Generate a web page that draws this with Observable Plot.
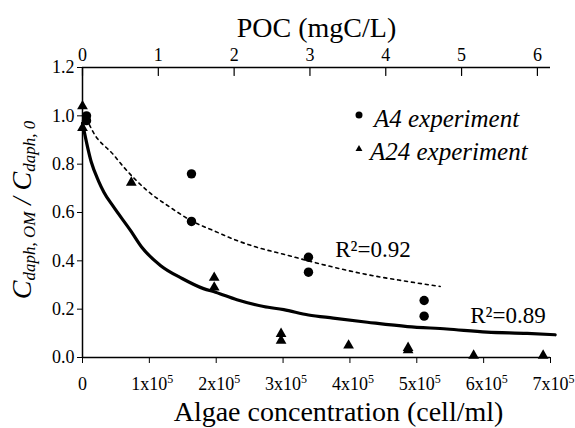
<!DOCTYPE html>
<html><head><meta charset="utf-8">
<script src="https://cdn.jsdelivr.net/npm/d3@7"></script>
<script src="https://cdn.jsdelivr.net/npm/@observablehq/plot@0.6"></script>
<style>body{margin:0;background:#fff} svg text{font-family:"Liberation Serif", serif;}</style>
</head><body><div id="chart"></div>
<script>
// A4 experiment (circles)
const a4X = [6000, 6000, 163000, 163000, 338000, 338000, 511000, 511000];
const a4Y = [1.00, 0.98, 0.76, 0.563, 0.415, 0.353, 0.236, 0.171];
// A24 experiment (triangles)
const a24X = [0, 0, 73000, 197000, 197000, 297000, 297000, 398000, 487000, 487000, 585000, 689000];
const a24Y = [1.04, 0.95, 0.724, 0.33, 0.29, 0.098, 0.07, 0.05, 0.04, 0.03, 0.008, 0.008];
// fitted curve A4 (dashed)
const fit4X = [6000, 14500, 46000, 61000, 97000, 132000, 162000, 196000, 231000, 261000, 301000, 331000, 375000, 426000, 476000, 535000];
const fit4Y = [0.99, 0.94, 0.84, 0.79, 0.69, 0.62, 0.567, 0.525, 0.484, 0.456, 0.427, 0.405, 0.374, 0.343, 0.319, 0.294];
// fitted curve A24 (solid)
const fit24X = [0, 13000, 24000, 32000, 46000, 72000, 89000, 117000, 149000, 181000, 199000, 231000, 271000, 301000, 338000, 375000, 426000, 486000, 545000, 605000, 665000, 707000];
const fit24Y = [0.97, 0.81, 0.73, 0.684, 0.625, 0.525, 0.455, 0.38, 0.327, 0.285, 0.27, 0.239, 0.211, 0.198, 0.176, 0.163, 0.146, 0.128, 0.118, 0.105, 0.1, 0.094];
// R² labels
const r2Text = ["R\u00b2=0.92", "R\u00b2=0.89"];
const r2X = [378000, 580000];
const r2Y = [0.414, 0.141];
// axes
const xTicks = [0, 100000, 200000, 300000, 400000, 500000, 600000, 700000];
const xTickMantissa = ["0", "1x10", "2x10", "3x10", "4x10", "5x10", "6x10", "7x10"];
const xTickExp = ["", "5", "5", "5", "5", "5", "5", "5"];
const yTicks = [0, 0.2, 0.4, 0.6, 0.8, 1.0, 1.2];
const pocTicks = [0, 1, 2, 3, 4, 5, 6];
const cellsPerPOC = 113400;
const xTitle = "Algae concentration (cell/ml)";
const topTitle = "POC (mgC/L)";
const legendLabels = ["A4 experiment", "A24 experiment"];

const zip = (X, Y) => X.map((x, i) => ({x, y: Y[i]}));
const a4 = zip(a4X, a4Y), a24 = zip(a24X, a24Y);
const fit4 = zip(fit4X, fit4Y), fit24 = zip(fit24X, fit24Y);
const r2 = r2Text.map((t, i) => ({t, x: r2X[i], y: r2Y[i]}));
const mantissa = new Map(xTicks.map((v, i) => [v, xTickMantissa[i]]));
const pocX = pocTicks.map(p => p * cellsPerPOC);
const FONT = "'Liberation Serif', serif";
const tickDown = {draw(context, l) { context.moveTo(0, 0); context.lineTo(0, l); }};

const plot = Plot.plot({
  width: 575, height: 428,
  marginTop: 67, marginRight: 25, marginBottom: 71, marginLeft: 82,
  style: {fontFamily: FONT, fontSize: "18px", color: "black", background: "white"},
  x: {domain: [0, 700000]},
  y: {domain: [0, 1.2]},
  marks: [
    Plot.ruleX([0], {y1: 0, y2: 1.2, strokeWidth: 1.5}),
    Plot.ruleY([0, 1.2], {strokeWidth: 1.5}),
    Plot.axisY(yTicks, {tickSize: 5, tickPadding: 3, tickFormat: d3.format(".1f"), label: null}),
    Plot.axisX(xTicks, {anchor: "bottom", tickSize: 6, tickPadding: 14, tickFormat: d => mantissa.get(d), label: null}),
    Plot.axisX(pocX, {anchor: "top", tickSize: 0, tickPadding: 7, tickFormat: d => String(Math.round(d / cellsPerPOC)), label: null}),
    Plot.vector(pocX, {x: d => d, y: 1.2, length: 8, anchor: "start", shape: tickDown, stroke: "black", strokeWidth: 1.2}),
    Plot.line(fit4, {x: "x", y: "y", stroke: "black", strokeWidth: 1.6, strokeDasharray: "3,4", curve: "monotone-x"}),
    Plot.line(fit24, {x: "x", y: "y", stroke: "black", strokeWidth: 3.2, curve: "monotone-x"}),
    Plot.dot(a4, {x: "x", y: "y", r: 4.7, fill: "black", symbol: "circle"}),
    Plot.dot(a24, {x: "x", y: "y", r: 4, fill: "black", symbol: "triangle"}),
    Plot.text(r2, {x: "x", y: "y", text: "t", textAnchor: "start", lineAnchor: "bottom", fontSize: 23}),
    Plot.text([topTitle], {frameAnchor: "top", dy: -31, lineAnchor: "bottom", fontSize: 28}),
    Plot.text([xTitle], {frameAnchor: "bottom", dy: 63, dx: 22, lineAnchor: "bottom", fontSize: 28})
  ]
});

const svg = d3.select(plot);
svg.selectAll("text").style("font-family", FONT);
// superscripts on bottom tick labels
svg.selectAll("text").each(function() {
  const t = this.textContent;
  const i = xTickMantissa.indexOf(t);
  if (i > 0 && xTickExp[i]) {
    d3.select(this).attr("dx", 3);
    d3.select(this).append("tspan").attr("font-size", 12).attr("dy", -7).text(xTickExp[i]);
  }
});

// legend
const leg = svg.append("g").style("font-family", FONT).attr("font-style", "italic").attr("font-size", 25).attr("text-anchor", "start");
leg.append("circle").attr("cx", 359).attr("cy", 115).attr("r", 3.5).attr("fill", "black");
leg.append("path").attr("d", d3.symbol(d3.symbolTriangle, 21)()).attr("transform", "translate(359,149)").attr("fill", "black");
leg.append("text").attr("x", 374).attr("y", 127).style("font-family", FONT).text(legendLabels[0]);
leg.append("text").attr("x", 370).attr("y", 160).style("font-family", FONT).text(legendLabels[1]);

// y axis title
const yl = svg.append("text").attr("transform", "translate(31,210) rotate(-90)")
  .attr("text-anchor", "middle").style("font-family", FONT).attr("font-style", "italic");
yl.append("tspan").attr("font-size", 28).text("C");
yl.append("tspan").attr("font-size", 17).attr("dy", 4).text("daph, OM");
yl.append("tspan").attr("font-size", 27).attr("dy", -4).text(" / ");
yl.append("tspan").attr("font-size", 28).text("C");
yl.append("tspan").attr("font-size", 17).attr("dy", 4).text("daph, 0");

document.getElementById("chart").appendChild(plot);
</script>
</body></html>
